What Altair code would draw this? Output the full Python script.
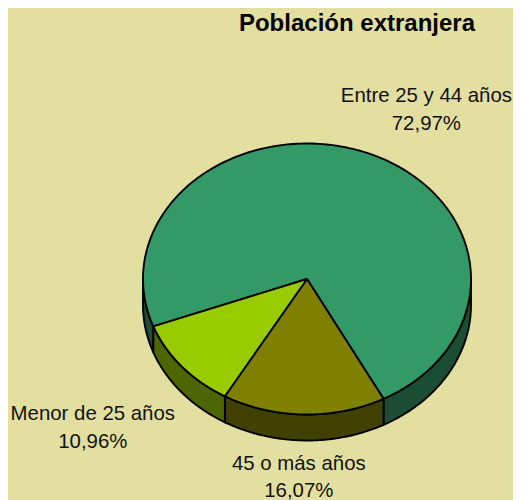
import numpy as np
import pandas as pd
import altair as alt

# chart values
categories = ["Entre 25 y 44 años", "45 o más años", "Menor de 25 años"]
shares = [72.97, 16.07, 10.96]
share_labels = ["72,97%", "16,07%", "10,96%"]
title_text = "Población extranjera"

# style
top_colors = ["#339966", "#808000", "#99CC00"]
side_colors = ["#1A4D33", "#404000", "#4D6600"]
BG = "#E3DFA0"
W, H = 505, 492            # page width minus its margins; height reaches the window's foot
CX, CY, RX, RY, DEPTH = 299, 271, 164, 135.5, 26
START = 159.5
LABEL_OFFSETS = [(61, -56, 28), (-5, 50, 26.5), (-89, 47, 28)]

x_scale = alt.Scale(domain=[0, W], range=[0, W], nice=False, zero=False)
y_scale = alt.Scale(domain=[0, H], range=[0, H], nice=False, zero=False)


def rim(t_deg, drop=0.0):
    t = np.radians(t_deg)
    return CX + RX * np.cos(t), CY + RY * np.sin(t) + drop


def polygon(xs, ys):
    return pd.DataFrame({"x": xs, "y": ys, "i": range(len(xs))})


def shape(df, fill):
    return alt.Chart(df).mark_line(
        fill=fill, stroke="black", strokeWidth=1.9, strokeJoin="round",
        interpolate="linear-closed",
    ).encode(
        x=alt.X("x:Q", scale=x_scale, axis=None),
        y=alt.Y("y:Q", scale=y_scale, axis=None),
        order="i:Q",
    )


spans = []
a = START
for s in shares:
    b = a + s * 3.6
    spans.append((a, b))
    a = b

side_layers, top_layers, text_layers = [], [], []
for (a, b), top, side in zip(spans, top_colors, side_colors):
    # the visible wall is where the rim faces the viewer (sin t >= 0)
    for k in (0, 360):
        lo, hi = max(a, k), min(b, k + 180)
        if hi > lo:
            ts = np.linspace(lo, hi, 70)
            x1, y1 = rim(ts)
            x2, y2 = rim(ts[::-1], DEPTH)
            side_layers.append(shape(polygon(np.r_[x1, x2], np.r_[y1, y2]), side))
    ts = np.linspace(a, b, 200)
    x1, y1 = rim(ts)
    top_layers.append(shape(polygon(np.r_[CX, x1], np.r_[CY, y1]), top))

for (a, b), cat, lab, (dx, dy, lh) in zip(spans, categories, share_labels, LABEL_OFFSETS):
    mx, my = rim((a + b) / 2)
    df = pd.DataFrame({"x": [mx], "y": [my], "label": [cat + "\n" + lab]})
    text_layers.append(
        alt.Chart(df).mark_text(
            font="Liberation Sans", fontSize=20.4, color="#111111", align="center",
            baseline="middle", lineBreak="\n", lineHeight=lh, dx=dx, dy=dy,
        ).encode(
            x=alt.X("x:Q", scale=x_scale, axis=None),
            y=alt.Y("y:Q", scale=y_scale, axis=None),
            text="label:N",
        )
    )

title_layer = alt.Chart(pd.DataFrame({"label": [title_text]})).mark_text(
    font="Liberation Sans", fontSize=24, fontWeight="bold", color="black",
    align="center", baseline="alphabetic",
).encode(x=alt.value(349), y=alt.value(23), text="label:N")

chart = alt.layer(*side_layers, *top_layers, *text_layers, title_layer).properties(
    width=W, height=H,
    padding=0,
    background=BG,
    autosize=alt.AutoSizeParams(type="none"),
).configure_view(stroke=None, fill=BG)

chart.save("out.html", embed_options={"renderer": "svg", "actions": False})
